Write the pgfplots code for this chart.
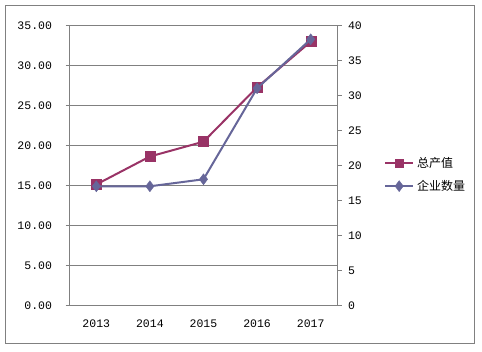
\documentclass[border=0pt]{standalone}
\usepackage{fontspec}
\setmainfont{Liberation Mono}
\newfontfamily\cjk{Noto Sans CJK SC}
\usepackage{pgfplots}
\pgfplotsset{compat=1.18}
\definecolor{cA}{HTML}{993366}
\definecolor{cB}{HTML}{666699}
\definecolor{gridc}{HTML}{808080}
\begin{document}
\begin{tikzpicture}[x=1pt,y=1pt]
\path[use as bounding box] (0,0) rectangle (482,352);
\draw[gridc, line width=1pt] (5.7,8) rectangle (474.3,346.3);
\begin{axis}[
  at={(69.5pt,46.7pt)}, anchor=south west,
  scale only axis, width=268pt, height=280pt,
  xmin=-0.5, xmax=4.5, ymin=0, ymax=35,
  axis line style={gridc, line width=1pt},
  ytick pos=left, xtick pos=bottom,
  tick align=outside, major tick length=4pt,
  every tick/.style={gridc, line width=1pt},
  xtick={0,...,4}, xticklabels={2013,2014,2015,2016,2017},
  major x tick style={draw=none},
  extra x ticks={-0.5,0.5,1.5,2.5,3.5,4.5}, extra x tick labels={},
  extra x tick style={grid=none, major tick length=4pt, tick style={gridc, line width=1pt}},
  ytick={0,5,...,35},
  ymajorgrids, major grid style={gridc, line width=1pt},
  yticklabel style={/pgf/number format/fixed, /pgf/number format/fixed zerofill, /pgf/number format/precision=2, /pgf/number format/assume math mode=true, xshift=-10pt},
  xticklabel style={/pgf/number format/assume math mode=true, yshift=-7pt},
  tick label style={font=\fontsize{11.5}{13}\selectfont},
]
\addplot[cA, line width=2pt, mark=square*, mark size=5pt, mark options={solid, fill=cA, draw=cA, line width=0.4pt}]
  coordinates {(0,15.1)(1,18.6)(2,20.45)(3,27.25)(4,32.95)};
\end{axis}
\begin{axis}[
  at={(69.5pt,46.7pt)}, anchor=south west,
  scale only axis, width=268pt, height=280pt,
  xmin=-0.5, xmax=4.5, ymin=0, ymax=40,
  axis x line=none, axis y line*=right,
  axis line style={gridc, line width=1pt},
  tick align=outside, major tick length=4pt,
  every tick/.style={gridc, line width=1pt},
  ytick={0,5,...,40},
  yticklabel style={/pgf/number format/assume math mode=true, xshift=3pt},
  tick label style={font=\fontsize{11.5}{13}\selectfont},
  legend style={draw=none, fill=none, at={(1.1735,0.466)}, anchor=west, inner sep=0pt,
    font=\cjk\fontsize{12}{14}\selectfont, row sep=7pt,
    /tikz/every odd column/.append style={column sep=1pt}},
  legend cell align=left,
  legend image code/.code={\draw[mark repeat=2,mark phase=2] plot coordinates {(0pt,0pt)(14pt,0pt)(28pt,0pt)};},
]
\addlegendimage{cA, line width=2pt, mark=square*, mark size=4pt, mark options={solid, fill=cA, draw=cA, line width=0.4pt}}
\addlegendentry{总产值}
\addplot[cB, line width=2pt, mark=diamond*, mark size=5.5pt, mark options={solid, fill=cB, draw=cB, line width=0.4pt}]
  coordinates {(0,17)(1,17)(2,18)(3,31)(4,38)};
\addlegendentry{企业数量}
\end{axis}
\end{tikzpicture}
\end{document}
